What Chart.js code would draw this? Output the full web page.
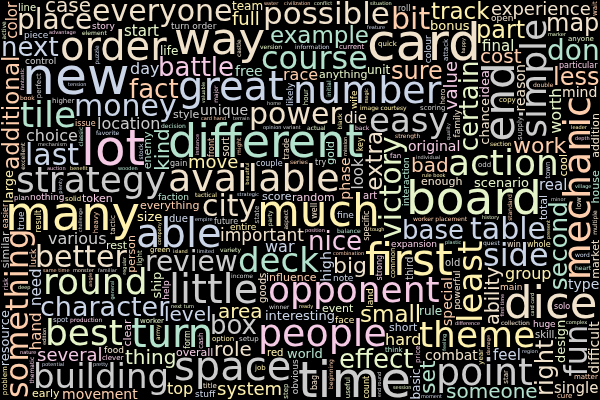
<!DOCTYPE html>
<html>
<head>
<meta charset="utf-8">
<script src="https://cdn.jsdelivr.net/npm/chart.js@4.4.1/dist/chart.umd.min.js"></script>
<style>
  html, body { margin: 0; padding: 0; background: #000; }
  #wrap { width: 600px; height: 400px; }
</style>
</head>
<body>
<div id="wrap"><canvas id="cloud"></canvas></div>
<script>
// word frequencies (relative, biggest word = 52)
const words = [
  'card','new','time','lot','many','board','different','dice','first','way',
  'much','end','order','space','able','little','great','turn','people','point',
  'number','available','mechanic','tile','theme','action','strategy','best','opponent','simple',
  'round','building','easy','deck','least','something','possible','side','course','fun',
  'table','bit','everyone','money','better','last','victory','city','power','example',
  'place','character','experience','review','don','fact','effect','next','nice','base',
  'battle','box','certain','additional','second','sure','right','important','small','less',
  'track','map','ability','system','part','extra','several','thing','big','work',
  'interesting','various','set','everything','original','someone','location','special','unique','bad',
  'choice','movement','combat','value','role','level','group','single','cost','kind',
  'phase','area','case','design','worth','color','need','difficult','hand','enough',
  'start','anything','hard','move','world','full','type','scenario','final','chance',
  'mind','top','bonus','war','expansion','large','race','look','powerful','reason',
  'day','particular','high','nothing','person','early','die','real','goods','feel',
  'basic','token','team','resource','free','influence','event','random','addition','short',
  'image courtesy','overall','market','ship','couple','family','similar','specific','gold','style',
  'problem','enemy','control','size','idea','house','production','worker placement','scoring','faction',
  'turn order','clear','story','score','interaction','huge','total','unit','obvious','entire',
  'piece','strong','rule','beginning','likely','perfect','strength','multiple','life','information',
  'colour','easier','option','main','higher','whole','potential','advantage','current','worker',
  'third','future','cool','supply','version','decision','clever','variety','anyone','balance',
  'favorite','stuff','attack','element','open','heavy','issue','skill','result','count',
  'collection','setup','tactical','strategic','rest','face','income','aspect','useful','food',
  'quick','winner','thematic','note','trade','red','due','excellent','luck','matter',
  'land','line','challenge','position','standard','help','opinion','art','complete','sort',
  'monster','tension','present','old','series','tactic','section','complex','fine','quality',
  'designer','true','front','puzzle','previous','fantastic','wife','gain','opportunity','form',
  'might','actual','double','history','think','quest','solo','green','key','region',
  'mission','general','empire','civilization','damage','copy','rule book','try','price','roll',
  'classic','village','heart','castle','leader','dungeon','hero','auction','combination','party',
  'major','solid','spot','year','plan','difference','bag','moment','regular','card hand',
  'light','win','ready','variant','state','plastic','hour','step','adjacent','conflict',
  'instance','tough','initial','black','depth','well','pretty','active','cash','change',
  'stock','edition','book','cure','fan','feeling','mechanism','benefit','wooden','title',
  'word','happy','magic','familiar','army','common','individual','back','card card','same time',
  'limited','wait','next turn','low','star','minor','job','home','campaign','feature',
  'terrain','question','situation','marker','odd','beautiful','island','victory point','symbol','end round',
  'valuable','angle','objective','town','first time','water','session','nature','plenty','deep',
  'risk','company','military'
];
const counts = [
  52,52,50,50,48,47,46,45,45,45,
  44,42,40,40,40,40,40,40,38,38,
  38,38,38,36,36,36,36,36,36,36,
  36,34,34,34,34,32,32,32,32,32,
  30,30,30,30,30,30,30,30,30,28,
  28,28,28,28,28,26,26,26,26,26,
  26,26,26,25,25,24,24,24,24,24,
  24,24,24,24,24,24,24,22,22,22,
  22,22,22,22,22,22,22,22,20,20,
  20,20,20,20,20,20,20,20,20,20,
  20,20,20,20,20,20,20,19,19,18,
  18,18,18,18,18,18,18,18,17,16,
  16,16,16,16,16,16,16,16,16,16,
  16,16,16,15,15,15,15,15,15,15,
  15,15,15,15,15,15,15,15,15,15,
  15,15,14,14,14,14,14,14,14,14,
  13,13,13,13,13,13,13,13,13,13,
  13,12,12,12,12,12,12,12,12,12,
  12,12,12,12,12,12,12,12,12,12,
  12,12,12,12,12,12,12,12,12,12,
  12,12,11,11,11,11,11,11,11,11,
  11,11,11,11,11,11,11,11,11,11,
  11,11,11,11,11,11,11,11,11,10,
  10,10,10,10,10,10,10,10,10,10,
  10,10,10,10,10,10,10,10,10,10,
  10,10,10,10,10,10,10,10,10,10,
  10,10,9,9,9,9,9,9,9,9,
  9,9,9,9,9,9,8,8,8,8,
  8,8,8,8,8,8,8,8,8,8,
  8,8,8,8,8,8,8,8,8,8,
  8,8,8,8,8,8,8,8,8,8,
  8,8,8,8,8,8,8,8,8,8,
  8,8,8,8,8,8,8,8,8,7,
  7,7,7,7,7,7,7,7,7,7,
  7,7,7,7,7,7,7,7,7,7,
  7,7,7,7,7,7,7,7,7,7,
  7,7,7,7,7,7,7,7,7,7,
  7,7,7,7,7,7,7,7,7,7,
  7,7,7
];

// ---- look ----
const W = 600, H = 400;
const MAX_FONT = 52, MIN_FONT = 5, MARGIN = 2;
const FONT = '"DejaVu Sans", sans-serif';
const palette = ['#b3e2cd', '#fdcdac', '#cbd5e8', '#f4cae4', '#e6f5c9', '#fff2ae', '#f1e2cc', '#cccccc'];
const colourOf = {
  board: 4, time: 7, card: 6, different: 0, first: 5, lot: 3, new: 2, bit: 1, many: 5, dice: 6,
  order: 6, easy: 7, money: 2, action: 4, something: 1, building: 7, possible: 6, strategy: 7,
  better: 6, deck: 0, way: 6, able: 2, people: 3, little: 7, great: 2, point: 7, much: 5,
  course: 0, turn: 0, round: 4, number: 2, tile: 0, available: 6, mechanic: 1, theme: 5,
  end: 7, simple: 7, opponent: 3, least: 5, fun: 7, space: 7, table: 2, best: 4, side: 2,
  example: 0, everyone: 6, place: 6, character: 2, experience: 6, victory: 4, city: 6,
  power: 6, last: 2, don: 0, fact: 1, sure: 1, right: 6, important: 6, effect: 4, next: 2,
  nice: 3, base: 2, battle: 3, box: 7, certain: 4, review: 7, additional: 1, second: 0,
  extra: 6, several: 3
};
const vertical = new Set([
  'important', 'mechanic', 'simple', 'end', 'least', 'fun', 'special', 'kind', 'need', 'hard',
  'set', 'powerful', 'gold', 'multiple', 'total', 'hero', 'card card', 'year', 'complete',
  'tactic', 'present', 'light', 'instance', 'quality', 'designer', 'aspect', 'useful', 'true',
  'objective', 'military', 'beautiful', 'victory point', 'mission', 'general', 'edition',
  'fantastic', 'previous', 'damage', 'common', 'angle', 'town', 'star', 'low'
]);

function hash(s) {
  let h = 2166136261;
  for (let i = 0; i < s.length; i++) {
    h ^= s.charCodeAt(i);
    h = Math.imul(h, 16777619);
  }
  return h >>> 0;
}

// place words the way python's wordcloud does: biggest first, any free box
function layoutCloud() {
  const mask = document.createElement('canvas');
  mask.width = W; mask.height = H;
  const mctx = mask.getContext('2d', { willReadFrequently: true });
  mctx.fillStyle = '#fff';
  const occ = new Uint8Array(W * H);
  const sat = new Int32Array((W + 1) * (H + 1));
  const spots = new Int32Array(W * H);
  const rebuild = () => {
    for (let y = 1; y <= H; y++) {
      let run = 0;
      for (let x = 1; x <= W; x++) {
        run += occ[(y - 1) * W + x - 1];
        sat[y * (W + 1) + x] = sat[(y - 1) * (W + 1) + x] + run;
      }
    }
  };
  const findSpot = (w, h, key) => {
    let n = 0;
    for (let y = 0; y + h <= H; y++) {
      const r0 = y * (W + 1), r1 = (y + h) * (W + 1);
      for (let x = 0; x + w <= W; x++) {
        if (sat[r1 + x + w] - sat[r0 + x + w] - sat[r1 + x] + sat[r0 + x] === 0) spots[n++] = y * W + x;
      }
    }
    if (!n) return null;
    const p = spots[key % n];
    return { x: p % W, y: Math.floor(p / W) };
  };

  const maxCount = Math.max(...counts);
  const order = words.map((w, i) => i).sort((a, b) => counts[b] - counts[a] || a - b);
  const placed = [];
  rebuild();
  for (const i of order) {
    const word = words[i];
    const key = hash(word);
    let size = Math.round(MAX_FONT * counts[i] / maxCount);
    let done = null;
    while (!done && size >= MIN_FONT) {
      mctx.font = size + 'px ' + FONT;
      const m = mctx.measureText(word);
      const left = m.actualBoundingBoxLeft, right = m.actualBoundingBoxRight;
      const asc = m.actualBoundingBoxAscent, desc = m.actualBoundingBoxDescent;
      const tw = Math.ceil(left + right) + MARGIN, th = Math.ceil(asc + desc) + MARGIN;
      const tries = vertical.has(word) ? [true, false] : [false, true];
      for (const rot of tries) {
        const bw = rot ? th : tw, bh = rot ? tw : th;
        const s = findSpot(bw, bh, key);
        if (!s) continue;
        const ax = rot ? s.x + MARGIN / 2 + asc : s.x + MARGIN / 2 + left;
        const ay = rot ? s.y + MARGIN / 2 + right : s.y + MARGIN / 2 + asc;
        done = { word, size, rot, x: ax, y: ay, box: [s.x, s.y, bw, bh] };
        break;
      }
      if (!done) size--;
    }
    if (!done) continue;
    // burn the word into the mask
    mctx.save();
    mctx.translate(done.x, done.y);
    if (done.rot) mctx.rotate(-Math.PI / 2);
    mctx.fillText(word, 0, 0);
    mctx.restore();
    const [bx, by, bw, bh] = done.box;
    const x0 = Math.max(0, bx - 2), y0 = Math.max(0, by - 2);
    const x1 = Math.min(W, bx + bw + 2), y1 = Math.min(H, by + bh + 2);
    const img = mctx.getImageData(x0, y0, x1 - x0, y1 - y0).data;
    for (let y = y0; y < y1; y++) {
      for (let x = x0; x < x1; x++) {
        if (img[((y - y0) * (x1 - x0) + (x - x0)) * 4 + 3] > 0) occ[y * W + x] = 1;
      }
    }
    rebuild();
    placed.push(done);
  }
  return placed;
}

const placed = layoutCloud();

const wordText = {
  id: 'wordText',
  beforeDraw(chart) {
    const c = chart.ctx;
    c.save();
    c.fillStyle = '#000';
    c.fillRect(0, 0, chart.width, chart.height);
    c.restore();
  },
  afterDatasetsDraw(chart) {
    const c = chart.ctx;
    const meta = chart.getDatasetMeta(0);
    meta.data.forEach((pt, i) => {
      const p = placed[i];
      c.save();
      c.translate(pt.x, pt.y);
      if (p.rot) c.rotate(-Math.PI / 2);
      c.font = p.size + 'px ' + FONT;
      c.textAlign = 'left';
      c.textBaseline = 'alphabetic';
      const ci = p.word in colourOf ? colourOf[p.word] : hash(p.word + '#') % palette.length;
      c.fillStyle = palette[ci];
      c.fillText(p.word, 0, 0);
      c.restore();
    });
  }
};

new Chart(document.querySelector('#cloud'), {
  type: 'scatter',
  data: {
    labels: placed.map(p => p.word),
    datasets: [{
      data: placed.map(p => ({ x: p.x, y: p.y })),
      pointRadius: 0,
      pointHoverRadius: 0
    }]
  },
  options: {
    responsive: true,
    maintainAspectRatio: false,
    animation: false,
    layout: { padding: 0 },
    plugins: {
      legend: { display: false },
      tooltip: { enabled: false }
    },
    scales: {
      x: { type: 'linear', min: 0, max: W, display: false },
      y: { type: 'linear', min: 0, max: H, reverse: true, display: false }
    }
  },
  plugins: [wordText]
});
</script>
</body>
</html>
